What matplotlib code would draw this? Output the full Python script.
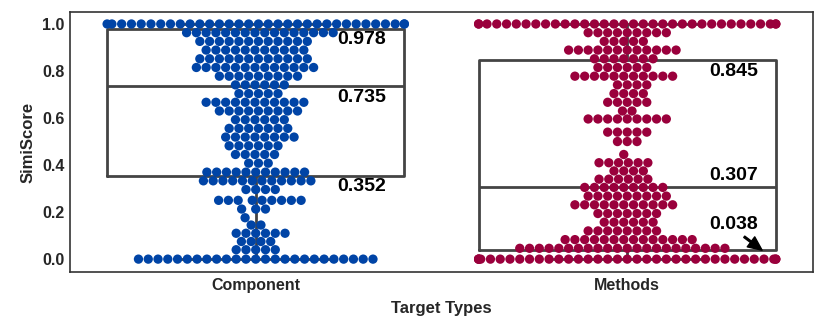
import numpy as np
import pandas as pd
import matplotlib
matplotlib.use("Agg")
import matplotlib.pyplot as plt
import seaborn as sns
import warnings

warnings.filterwarnings("ignore")

# data: score levels and how many points sit on each
categories = ["Component", "Methods"]
comp_levels = [1.0, 0.963, 0.926, 0.889, 0.852, 0.815, 0.778, 0.741, 0.704,
               0.667, 0.630, 0.593, 0.556, 0.519, 0.482, 0.445, 0.408,
               0.37, 0.333, 0.296, 0.25, 0.213, 0.176, 0.145, 0.11, 0.075,
               0.04, 0.0]
comp_counts = [33, 16, 12, 11, 12, 13, 9, 6, 5,
               11, 9, 6, 7, 8, 6, 5, 3,
               11, 12, 4, 9, 3, 1, 2, 6, 4,
               5, 25]
meth_levels = [1.0, 0.963, 0.926, 0.889, 0.852, 0.815, 0.778, 0.741, 0.704,
               0.667, 0.63, 0.596, 0.54, 0.5, 0.445, 0.41, 0.375, 0.34,
               0.305, 0.268, 0.231, 0.194, 0.157, 0.12, 0.083, 0.046, 0.0]
meth_counts = [34, 9, 5, 12, 7, 6, 11, 4, 4,
               5, 2, 9, 5, 3, 1, 6, 4, 6,
               9, 9, 11, 7, 6, 8, 14, 22, 36]

# box statistics as labelled on the chart
q1 = [0.352, 0.038]
med = [0.735, 0.307]
q3 = [0.978, 0.845]
whis_lo = [0.0, 0.0]
whis_hi = [1.0, 1.0]

colors = ["#0044A6", "#9A003C"]

comp = np.repeat(comp_levels, comp_counts)
meth = np.repeat(meth_levels, meth_counts)
df = pd.DataFrame({
    "Target Types": [categories[0]] * len(comp) + [categories[1]] * len(meth),
    "SimiScore": np.concatenate([comp, meth]),
})

sns.set_style("white")
plt.rcParams["font.family"] = ["Liberation Sans", "DejaVu Sans"]
plt.rcParams["font.weight"] = "bold"

fig = plt.figure(figsize=(8.3, 3.33), dpi=100)
ax = fig.add_axes([0.0843, 0.183, 0.8952, 0.781])

sns.swarmplot(data=df, x="Target Types", y="SimiScore", hue="Target Types",
              order=categories, hue_order=categories, palette=colors,
              size=6.7, linewidth=0, legend=False, ax=ax, zorder=3)

stats = [dict(med=med[i], q1=q1[i], q3=q3[i], whislo=whis_lo[i],
              whishi=whis_hi[i], fliers=[]) for i in range(2)]
line = dict(color="#444444", linewidth=2)
ax.bxp(stats, positions=[0, 1], widths=0.8, capwidths=0.4, showfliers=False,
       boxprops=line, medianprops=line, whiskerprops=line, capprops=line,
       manage_ticks=False, zorder=1)

# quartile labels
offsets = [[-0.045, -0.048, -0.045], [0.11, 0.048, -0.047]]
for i in range(2):
    for k, v in enumerate([q1[i], med[i], q3[i]]):
        ax.text(i + 0.22, v + offsets[i][k], f"{v:.3f}", fontsize=14,
                fontweight="bold", color="black", ha="left", va="center",
                zorder=5)
ax.annotate("", xy=(1.363, q1[1]), xytext=(1.315, 0.095),
            arrowprops=dict(facecolor="black", edgecolor="black", width=1.2,
                            headwidth=9, headlength=10, shrink=0.0), zorder=5)

ax.set_xlim(-0.5, 1.5)
ax.set_ylim(-0.055, 1.051)
ax.set_yticks(np.arange(0, 1.01, 0.2))
ax.set_yticklabels([f"{t:.1f}" for t in np.arange(0, 1.01, 0.2)])
ax.tick_params(axis="both", length=0, labelsize=11.5, colors="#262626", pad=4)
for lab in ax.get_xticklabels() + ax.get_yticklabels():
    lab.set_fontweight("bold")
ax.set_xlabel("Target Types", fontsize=12, fontweight="bold", color="#262626", labelpad=6)
ax.set_ylabel("SimiScore", fontsize=12, fontweight="bold", color="#262626", labelpad=5)
for s in ax.spines.values():
    s.set_color("#333333")
    s.set_linewidth(1.2)

fig.savefig("out.png", dpi=100)
